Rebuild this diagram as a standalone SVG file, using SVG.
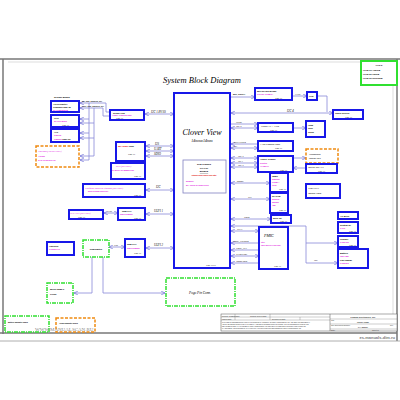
<svg xmlns="http://www.w3.org/2000/svg" width="400" height="400" viewBox="0 0 400 400">
<style>
.frame{stroke:#777;fill:none;stroke-width:1.5}
.box{fill:#fff;stroke:#1818e8;stroke-width:2}
.obox{fill:#fff;stroke:#f08a10;stroke-width:1.5;stroke-dasharray:3 1.5}
.gbox{fill:#fff;stroke:#30e030;stroke-width:1.5;stroke-dasharray:4 1 1 1}
.vbox{fill:#fff;stroke:#30e030;stroke-width:2}
.ln{stroke:#8888d8;stroke-width:0.8;fill:none}
.ib{fill:none;stroke:#8080c0;stroke-width:0.8}
text{font-family:"Liberation Serif",serif;font-size:3px;fill:#000}
.s{font-family:"Liberation Sans",sans-serif;font-size:2.6px;font-weight:bold}
.m{fill:#e010e0}
.r{fill:#e00000}
.i{font-style:italic}
.pg{font-size:2.2px}
.ft{font-family:"Liberation Sans",sans-serif;font-size:1.8px;fill:#333}
</style>
<defs>
<marker id="a" viewBox="0 0 6 6" refX="6" refY="3" markerWidth="4" markerHeight="4" orient="auto-start-reverse" markerUnits="userSpaceOnUse"><path d="M0,0L6,3L0,6" fill="none" stroke="#6a6ad8" stroke-width="1"/></marker>
</defs>
<rect width="400" height="400" fill="#fff"/>
<g id="frame">
<line x1="0" y1="59" x2="400" y2="59" class="frame"/>
<line x1="3" y1="59" x2="3" y2="334" class="frame"/>
<line x1="397" y1="59" x2="397" y2="341" class="frame"/>
<line x1="0" y1="333" x2="397" y2="333" class="frame" stroke-width="2"/>
<line x1="0" y1="341" x2="400" y2="341" stroke="#999" stroke-width="0.8"/>
<line x1="8" y1="62" x2="393" y2="62" stroke="#bbb" stroke-width="0.5"/>
<line x1="393" y1="62" x2="393" y2="331" stroke="#bbb" stroke-width="0.5"/>
</g>
<text x="202" y="83" text-anchor="middle" class="i" style="font-size:8.5px">System Block Diagram</text>
<g id="connectors">
<polyline class="ln" points="80,103 106,103 106,112 110,112" marker-start="url(#a)"/>
<polyline class="ln" points="80,108 103,108 103,116 110,116" marker-start="url(#a)"/>
<line class="ln" x1="89" y1="103" x2="89" y2="160"/>
<line class="ln" x1="94" y1="108" x2="94" y2="156"/>
<line class="ln" x1="89" y1="119" x2="80" y2="119" marker-end="url(#a)"/>
<line class="ln" x1="94" y1="123" x2="80" y2="123" marker-end="url(#a)"/>
<line class="ln" x1="89" y1="133" x2="80" y2="133" marker-end="url(#a)"/>
<line class="ln" x1="94" y1="138" x2="80" y2="138" marker-end="url(#a)"/>
<line class="ln" x1="94" y1="156" x2="80" y2="156" marker-end="url(#a)"/>
<line class="ln" x1="89" y1="160" x2="80" y2="160" marker-end="url(#a)"/>
<text x="82" y="102" class="s" style="font-size:1.8px">I2C_SNS_SENSOR_SPI</text>
<text x="82" y="107" class="s" style="font-size:1.8px">GPIO_SNS_SENSOR_SPI</text>
<line class="ln" x1="145" y1="114" x2="174" y2="114" marker-start="url(#a)" marker-end="url(#a)"/>
<text x="151" y="113" class="i">I2C 1.8V/SS</text>
<line class="ln" x1="146" y1="146" x2="174" y2="146" marker-start="url(#a)" marker-end="url(#a)"/>
<line class="ln" x1="146" y1="151" x2="174" y2="151" marker-start="url(#a)" marker-end="url(#a)"/>
<line class="ln" x1="146" y1="156" x2="174" y2="156" marker-start="url(#a)" marker-end="url(#a)"/>
<text x="155" y="145" class="i">I2S</text>
<text x="154" y="150" class="i">UART</text>
<text x="154" y="155" class="i">SDIO</text>
<line class="ln" x1="146" y1="190" x2="174" y2="190" marker-start="url(#a)" marker-end="url(#a)"/>
<text x="156" y="188" class="i">I2C</text>
<line class="ln" x1="104" y1="213" x2="118" y2="213" marker-start="url(#a)" marker-end="url(#a)"/>
<text x="108" y="212" style="font-size:2px">USB</text>
<line class="ln" x1="146" y1="214" x2="174" y2="214" marker-start="url(#a)" marker-end="url(#a)"/>
<text x="154" y="212" class="i">ULPI 1</text>
<line class="ln" x1="109" y1="247" x2="125" y2="247" marker-start="url(#a)" marker-end="url(#a)"/>
<text x="114" y="246" style="font-size:2px">USB</text>
<line class="ln" x1="146" y1="248" x2="174" y2="248" marker-start="url(#a)" marker-end="url(#a)"/>
<text x="154" y="246" class="i">ULPI 2</text>
<polyline class="ln" points="92,257 92,293 74,293" marker-end="url(#a)"/>
<polyline class="ln" points="103,257 103,293 165,293" marker-end="url(#a)"/>
<line class="ln" x1="230" y1="97" x2="255" y2="97" marker-end="url(#a)"/>
<text x="233" y="95" class="s" style="font-size:2px">MIPI_DSI(x4)</text>
<line class="ln" x1="292" y1="96" x2="307" y2="96" marker-end="url(#a)"/>
<text x="295" y="95" style="font-size:2.2px">LVDS</text>
<polyline class="ln" points="317,96 327,96 327,112"/>
<line class="ln" x1="231" y1="113" x2="333" y2="113" marker-start="url(#a)" marker-end="url(#a)"/>
<text x="287" y="112" class="i">I2C 4</text>
<line class="ln" x1="231" y1="124" x2="258" y2="124" marker-end="url(#a)"/>
<line class="ln" x1="231" y1="128" x2="258" y2="128" marker-start="url(#a)" marker-end="url(#a)"/>
<text x="236" y="123" style="font-size:2.2px">HDMI</text>
<text x="236" y="127.3" class="i" style="font-size:2.4px">I2C 5</text>
<line class="ln" x1="293" y1="128" x2="306" y2="128" marker-end="url(#a)"/>
<line class="ln" x1="258" y1="144" x2="231" y2="144" marker-end="url(#a)"/>
<line class="ln" x1="231" y1="148" x2="258" y2="148" marker-start="url(#a)" marker-end="url(#a)"/>
<text x="234" y="143" style="font-size:2.2px">MIPI CSI2x4</text>
<text x="234" y="147.3" style="font-size:2.2px">I2C</text>
<line class="ln" x1="231" y1="158" x2="258" y2="158" marker-start="url(#a)" marker-end="url(#a)"/>
<line class="ln" x1="231" y1="163" x2="258" y2="163" marker-start="url(#a)" marker-end="url(#a)"/>
<line class="ln" x1="231" y1="167" x2="258" y2="167" marker-start="url(#a)" marker-end="url(#a)"/>
<text x="238" y="157" class="i" style="font-size:2.4px">I2C 3</text>
<text x="238" y="162" class="i" style="font-size:2.4px">I2S 1</text>
<text x="238" y="166.3" class="i" style="font-size:2.4px">I2C 3</text>
<line class="ln" x1="293" y1="158" x2="306" y2="158" marker-end="url(#a)"/>
<line class="ln" x1="306" y1="168" x2="293" y2="168" marker-end="url(#a)"/>
<line class="ln" x1="231" y1="183" x2="270" y2="183" marker-start="url(#a)" marker-end="url(#a)"/>
<text x="237" y="182" class="i" style="font-size:2.4px">eMMC</text>
<line class="ln" x1="231" y1="199" x2="270" y2="199" marker-start="url(#a)" marker-end="url(#a)"/>
<text x="248" y="198" class="i" style="font-size:2.4px">SPI</text>
<line class="ln" x1="231" y1="219" x2="271" y2="219" marker-start="url(#a)" marker-end="url(#a)"/>
<text x="244" y="218" class="i" style="font-size:2.4px">SDIO</text>
<polyline class="ln" points="231,226 306,226 306,263 338,263" marker-start="url(#a)" marker-end="url(#a)"/>
<line class="ln" x1="306" y1="243" x2="338" y2="243" marker-end="url(#a)"/>
<text x="314" y="261" class="i" style="font-size:2.4px">I2C</text>
<line class="ln" x1="231" y1="231" x2="259" y2="231" marker-start="url(#a)" marker-end="url(#a)"/>
<text x="237" y="230" class="i" style="font-size:2.4px">SPI 4</text>
<line class="ln" x1="231" y1="243" x2="259" y2="243" marker-start="url(#a)"/>
<text x="233" y="241.5" class="i" style="font-size:2.4px">PMIC_PWRGD</text>
<line class="ln" x1="231" y1="250" x2="259" y2="250" marker-start="url(#a)"/>
<text x="236" y="249" class="i" style="font-size:2.4px">PMIC_INT</text>
<line class="ln" x1="231" y1="256" x2="259" y2="256" marker-start="url(#a)" marker-end="url(#a)"/>
<text x="236" y="255" class="i" style="font-size:2.4px">SVID/VIDS</text>
<line class="ln" x1="259" y1="263" x2="231" y2="263" marker-end="url(#a)"/>
<text x="236" y="262" class="i" style="font-size:2.4px">Power rails</text>
</g>
<g id="ver">
<rect x="361" y="61" width="36" height="24" class="vbox"/>
<text x="379" y="66" text-anchor="middle" class="s" style="font-size:2.4px">V1.0.0</text>
<text x="363" y="71" class="s" style="font-size:2px">LS-6241P Audio/B</text>
<text x="363" y="75" class="s" style="font-size:2px">LS-6242P PWR/B</text>
<text x="363" y="79" class="s" style="font-size:2px">LS-6243P Docking/B</text>
</g>
<text x="54" y="98" class="s" style="font-size:2.4px">Sensor Board</text>
<g id="accel"><rect x="51" y="101" width="28" height="11" class="box"/>
<text x="53" y="105" class="s" style="font-size:2px">Accelerometer/</text><text x="53" y="108" class="s" style="font-size:2px">Compass <tspan class="pg">Page xx</tspan></text><text x="53" y="111" class="s m" style="font-size:2px">ST LSM330DLM</text></g>
<g id="gyro"><rect x="51" y="115" width="28" height="12" class="box"/>
<text x="54" y="119" class="s" style="font-size:2px">Gyro</text><text x="54" y="122" class="s m" style="font-size:2px">ST L3G4200D</text><text x="62" y="125.5" class="pg">Page xx</text></g>
<g id="als"><rect x="51" y="129" width="28" height="13" class="box"/>
<text x="54" y="133" class="s" style="font-size:2px">ALS</text><text x="54" y="136" class="s m" style="font-size:2px">Capella</text><text x="54" y="139.5" class="s m" style="font-size:2px">CM3232 <tspan fill="#000" class="pg">Page xx</tspan></text></g>
<g id="prox"><rect x="36" y="146" width="43" height="21" class="obox"/>
<text x="38" y="152" class="i m" style="font-size:2.4px">Proximity(NO OPTION)</text><text x="38" y="157" class="s m" style="font-size:2px">ASOB0</text><text x="38" y="161" class="s m" style="font-size:2px">SAS-OPEN-DRAIN</text></g>
<g id="hub"><rect x="110" y="110" width="34" height="10" class="box"/>
<text x="113" y="113.5" class="s" style="font-size:2px">Sensor HUB</text><text x="112" y="116.3" class="s m" style="font-size:1.8px">ATMEL AT32UC3L0256</text><text x="116" y="119" class="pg">Page xx</text></g>
<g id="cpu"><rect x="174" y="93" width="56" height="175" class="box"/>
<text x="202" y="135" text-anchor="middle" class="i" style="font-size:8px">Clover View</text>
<text x="202" y="142" text-anchor="middle" class="i" style="font-size:4px">14mmx14mm</text>
<rect x="183" y="160" width="43" height="33" class="ib"/>
<text x="204" y="165" text-anchor="middle" class="s" style="font-size:2.2px">2GB LPDDR2</text>
<text x="204" y="168.5" text-anchor="middle" class="s" style="font-size:2.2px">CO-POP</text>
<text x="204" y="172" text-anchor="middle" class="s" style="font-size:2.2px" text-decoration="underline">800MHZ</text>
<text x="204" y="175.5" text-anchor="middle" class="s r" style="font-size:1.6px">(standby mode should hold data)</text>
<text x="186" y="182" class="s m" style="font-size:2px">Memory</text>
<text x="186" y="185.5" class="s m" style="font-size:2px">2G: K3PE4E400M-XGC2</text>
<text x="206" y="266" class="pg">Page xx/xx</text></g>
<g id="wlan"><rect x="116" y="142" width="29" height="19" class="box"/>
<text x="118" y="147" class="s r" style="font-size:2.2px">WLAN/BT <tspan fill="#000">conn</tspan></text><text x="128" y="155" class="pg">Page xx</text></g>
<g id="gps"><rect x="111" y="163" width="34" height="16" class="box"/>
<text x="116" y="167" class="i m" style="font-size:2.4px">GPS (OPTION)</text><text x="112" y="171" class="s m" style="font-size:1.7px">ST MICRO STA8088EX/CSR</text><text x="134" y="177" class="pg">Page xx</text></g>
<g id="pss"><rect x="83" y="184" width="62" height="13" class="box"/>
<text x="85" y="188.5" class="i m" style="font-size:2.5px">Platform Sensitive Storage (OPTION)</text><text x="88" y="192" class="s m" style="font-size:1.7px">MICRON M25P10/NXP/ST</text><text x="134" y="195.8" class="pg">Page xx</text></g>
<g id="nfc"><rect x="69" y="210" width="34" height="9" class="box"/>
<text x="70" y="214" class="i m" style="font-size:2.4px">NFC NXP (OPTION)</text><text x="78" y="217.6" class="pg">Page xx</text></g>
<g id="usbphy1"><rect x="118" y="208" width="27" height="12" class="box"/>
<text x="122" y="212" class="s" style="font-size:2.2px">USB PHY</text><text x="120" y="215" class="s m" style="font-size:1.7px">SMSC USB3320</text><text x="134" y="218.5" class="pg">Page xx</text></g>
<g id="poke"><rect x="47" y="242" width="27" height="13" class="box"/>
<text x="49" y="247" class="s" style="font-size:2.2px">Videokey</text><text x="49" y="250" class="s m" style="font-size:1.7px">CONNECTOR</text></g>
<g id="usbsw"><rect x="83" y="240" width="26" height="17" class="gbox"/>
<text x="96" y="249.5" text-anchor="middle" class="s" style="font-size:2.2px">USB Switch</text></g>
<g id="usbphy2"><rect x="125" y="239" width="20" height="18" class="box"/>
<text x="127" y="245" class="s" style="font-size:2.2px">USB PHY</text><text x="127" y="249" class="s m" style="font-size:1.7px">SMSC USB3320</text><text x="134" y="254" class="pg">Page xx</text></g>
<g id="microusb"><rect x="47" y="283" width="26" height="20" class="gbox"/>
<text x="50" y="290" class="s" style="font-size:2.2px">Micro USB2.0</text><text x="50" y="294.5" class="s" style="font-size:2.2px">CONN</text></g>
<g id="pogo"><rect x="166" y="278" width="69" height="28" class="gbox"/>
<text x="200" y="294" text-anchor="middle" class="i" style="font-size:3.4px">Pogo Pin Conn.</text></g>
<g id="batdb"><rect x="5" y="316" width="44" height="16" class="gbox"/>
<text x="8" y="323" class="s" style="font-size:1.8px">Battery daughter board</text></g>
<g id="auddb"><rect x="56" y="318" width="39" height="14" class="obox"/>
<text x="59" y="324" class="s" style="font-size:1.8px">Audio daughter board</text></g>
<text x="35" y="331" style="font-family:'Liberation Serif',serif;font-size:5px;fill:#888">WWW.MANUALSCAN.RU</text>
<g id="bridge"><rect x="255" y="88" width="37" height="12" class="box"/>
<text x="257" y="92" class="s" style="font-size:2.2px">MIPI 2LVDS Bridge</text><text x="257" y="95" class="s m" style="font-size:1.7px">TOSHIBA TC358764</text><text x="275" y="98.8" class="pg">Page xx</text></g>
<g id="lcd"><rect x="307" y="92" width="10" height="8" class="box"/>
<text x="309" y="97" class="s" style="font-size:2.2px">LCD</text></g>
<g id="touch"><rect x="333" y="110" width="30" height="9" class="box"/>
<text x="335" y="114" class="s" style="font-size:2.2px">Touch Screen</text><text x="345" y="117.5" class="pg">Page xx</text></g>
<g id="hdmils"><rect x="258" y="123" width="35" height="9" class="box"/>
<text x="261" y="127" class="i" style="font-size:2.6px">HDMI LS + ESD</text><text x="270" y="130.6" class="pg">Page xx</text></g>
<g id="hdmic"><rect x="306" y="121" width="19" height="16" class="box"/>
<text x="308" y="125.5" class="s" style="font-size:2px">HDMI</text><text x="308" y="129" class="s" style="font-size:2px">conn</text><text x="308" y="132.5" class="s" style="font-size:2px">TypeD</text></g>
<g id="cam"><rect x="258" y="141" width="35" height="10" class="box"/>
<text x="260" y="145" class="i" style="font-size:2.6px">1.3M Camera conn</text><text x="275" y="149.3" class="pg">Page xx</text></g>
<g id="codec"><rect x="258" y="156" width="35" height="16" class="box"/>
<text x="260" y="160" class="s" style="font-size:2.2px">AUDIO CODEC</text><text x="260" y="163.5" class="s m" style="font-size:2px">Realtek</text><text x="260" y="167" class="s m" style="font-size:2px">ALC5640</text><text x="280" y="170.5" class="pg">Page xx</text></g>
<g id="hp"><rect x="306" y="149" width="32" height="14" class="obox"/>
<text x="309" y="154.5" class="i" style="font-size:2.5px">Headphone</text><text x="309" y="158.5" class="i" style="font-size:2.5px">combo Jack</text></g>
<g id="dmic"><rect x="306" y="164" width="31" height="9" class="box"/>
<text x="308" y="168" class="i" style="font-size:2.5px">Digital Mic X 2</text><text x="318" y="171.5" class="pg">Page xx</text></g>
<g id="emmc"><rect x="270" y="173" width="18" height="19" class="box"/>
<text x="272" y="177" class="s" style="font-size:2px">eMMC</text><text x="272" y="180" class="s m" style="font-size:1.7px">Samsung</text><text x="272" y="183" class="s m" style="font-size:1.7px">KLMBG4</text><text x="272" y="186" class="s m" style="font-size:1.7px">16GB</text><text x="279" y="190.3" class="pg">Page xx</text></g>
<g id="spirom"><rect x="270" y="193" width="18" height="20" class="box"/>
<text x="272" y="197" class="s" style="font-size:2px">SPI ROM</text><text x="272" y="200" class="s m" style="font-size:1.7px">Winbond</text><text x="272" y="203" class="s m" style="font-size:1.7px">W25Q32</text><text x="272" y="206" class="s m" style="font-size:1.7px">4MB</text><text x="279" y="211.3" class="pg">Page xx</text></g>
<g id="sd"><rect x="271" y="215" width="20" height="8" class="box"/>
<text x="273" y="218.6" class="s" style="font-size:2px">Micro SD</text><text x="280" y="221.8" class="pg">Page xx</text></g>
<g id="pmic"><rect x="259" y="227" width="29" height="42" class="box"/>
<text x="264" y="237" class="i" style="font-size:4px">PMIC</text><text x="261" y="243" class="s m" style="font-size:1.8px">Intel</text><text x="261" y="246" class="s m" style="font-size:1.6px">PMIC MSIC/CLOVERVIEW</text><text x="274" y="267" class="pg">Page xx</text></g>
<g id="kdp"><rect x="306" y="184" width="34" height="14" class="box"/>
<text x="308" y="189" class="i" style="font-size:2.8px">XDP/STP</text><text x="308" y="194" class="i" style="font-size:2.8px">Debug card</text></g>
<g id="ac"><rect x="338" y="212" width="20" height="7" class="box"/>
<text x="340" y="216.5" class="s" style="font-size:2.2px">AC Brick</text></g>
<g id="sys5v"><rect x="338" y="222" width="20" height="11" class="box"/>
<text x="340" y="226" class="s" style="font-size:2.2px">System 5V</text><text x="340" y="229" class="s m" style="font-size:1.7px">TI TPS</text><text x="349" y="231.8" class="pg">Page xx</text></g>
<g id="charger"><rect x="338" y="236" width="20" height="11" class="box"/>
<text x="340" y="240" class="s" style="font-size:2.2px">Charger</text><text x="340" y="243" class="s m" style="font-size:1.7px">TI bq24192</text><text x="349" y="245.8" class="pg">Page xx</text></g>
<g id="battery"><rect x="338" y="249" width="30" height="19" class="box"/>
<text x="340" y="253.5" class="s" style="font-size:2.3px">Battery</text><text x="340" y="256.5" class="s m" style="font-size:1.7px">1S2P 3.85V</text><text x="340" y="260.5" class="s" style="font-size:2.3px">Fuel gauge</text><text x="340" y="264" class="s m" style="font-size:1.7px">TI bq27542</text></g>
<g id="titleblock">
<rect x="221" y="314" width="176" height="17" fill="#fff" stroke="#555" stroke-width="0.5"/>
<line x1="330" y1="314" x2="330" y2="331" stroke="#555" stroke-width="0.5"/>
<line x1="221" y1="317" x2="330" y2="317" stroke="#555" stroke-width="0.3"/>
<line x1="221" y1="320" x2="330" y2="320" stroke="#555" stroke-width="0.3"/>
<line x1="235" y1="314" x2="235" y2="320" stroke="#555" stroke-width="0.3"/>
<line x1="270" y1="314" x2="270" y2="320" stroke="#555" stroke-width="0.3"/>
<line x1="300" y1="317" x2="300" y2="320" stroke="#555" stroke-width="0.3"/>
<line x1="330" y1="319" x2="397" y2="319" stroke="#555" stroke-width="0.3"/>
<line x1="330" y1="324" x2="397" y2="324" stroke="#555" stroke-width="0.3"/>
<line x1="330" y1="329" x2="397" y2="329" stroke="#555" stroke-width="0.3"/>
<text x="222" y="316.5" class="ft">Security Classification</text>
<text x="250" y="316.5" class="ft">Compal Secret Data</text>
<text x="222" y="319.5" class="ft">Issued Date</text>
<text x="272" y="319.5" class="ft">Deciphered Date</text>
<text x="222" y="322.5" class="ft" style="font-size:1.3px">THIS SHEET OF ENGINEERING DRAWING IS THE PROPRIETARY PROPERTY OF COMPAL ELECTRONICS, INC. AND CONTAINS CONFIDENTIAL</text>
<text x="222" y="324.5" class="ft" style="font-size:1.3px">AND TRADE SECRET INFORMATION. THIS SHEET MAY NOT BE TRANSFERED FROM THE CUSTODY OF THE COMPETENT DIVISION OF R&amp;D</text>
<text x="222" y="326.5" class="ft" style="font-size:1.3px">DEPARTMENT EXCEPT AS AUTHORIZED BY COMPAL ELECTRONICS, INC. NEITHER THIS SHEET NOR THE INFORMATION IT CONTAINS</text>
<text x="222" y="328.5" class="ft" style="font-size:1.3px">MAY BE USED BY OR DISCLOSED TO ANY THIRD PARTY WITHOUT PRIOR WRITTEN CONSENT OF COMPAL ELECTRONICS, INC.</text>
<text x="363" y="317.5" text-anchor="middle" class="ft" style="font-size:2.2px;font-weight:bold">Compal Electronics, Inc.</text>
<text x="331" y="321" class="ft">Title</text>
<text x="363" y="322.5" text-anchor="middle" class="ft" style="font-size:2.2px;font-weight:bold">Cover Page</text>
<text x="331" y="326" class="ft">Size Document Number</text>
<text x="363" y="327.5" text-anchor="middle" class="ft" style="font-size:2.2px;font-weight:bold">LA-xxxxP</text>
<text x="390" y="326" class="ft">Rev</text>
<text x="331" y="330.8" class="ft">Date:</text>
<text x="372" y="330.8" class="ft">Sheet   of</text>
</g>
<text x="395" y="339" text-anchor="end" style="font-family:'Liberation Sans',sans-serif;font-size:4px;font-weight:bold;fill:#777">es-manuals-dim.ru</text>
</svg>
